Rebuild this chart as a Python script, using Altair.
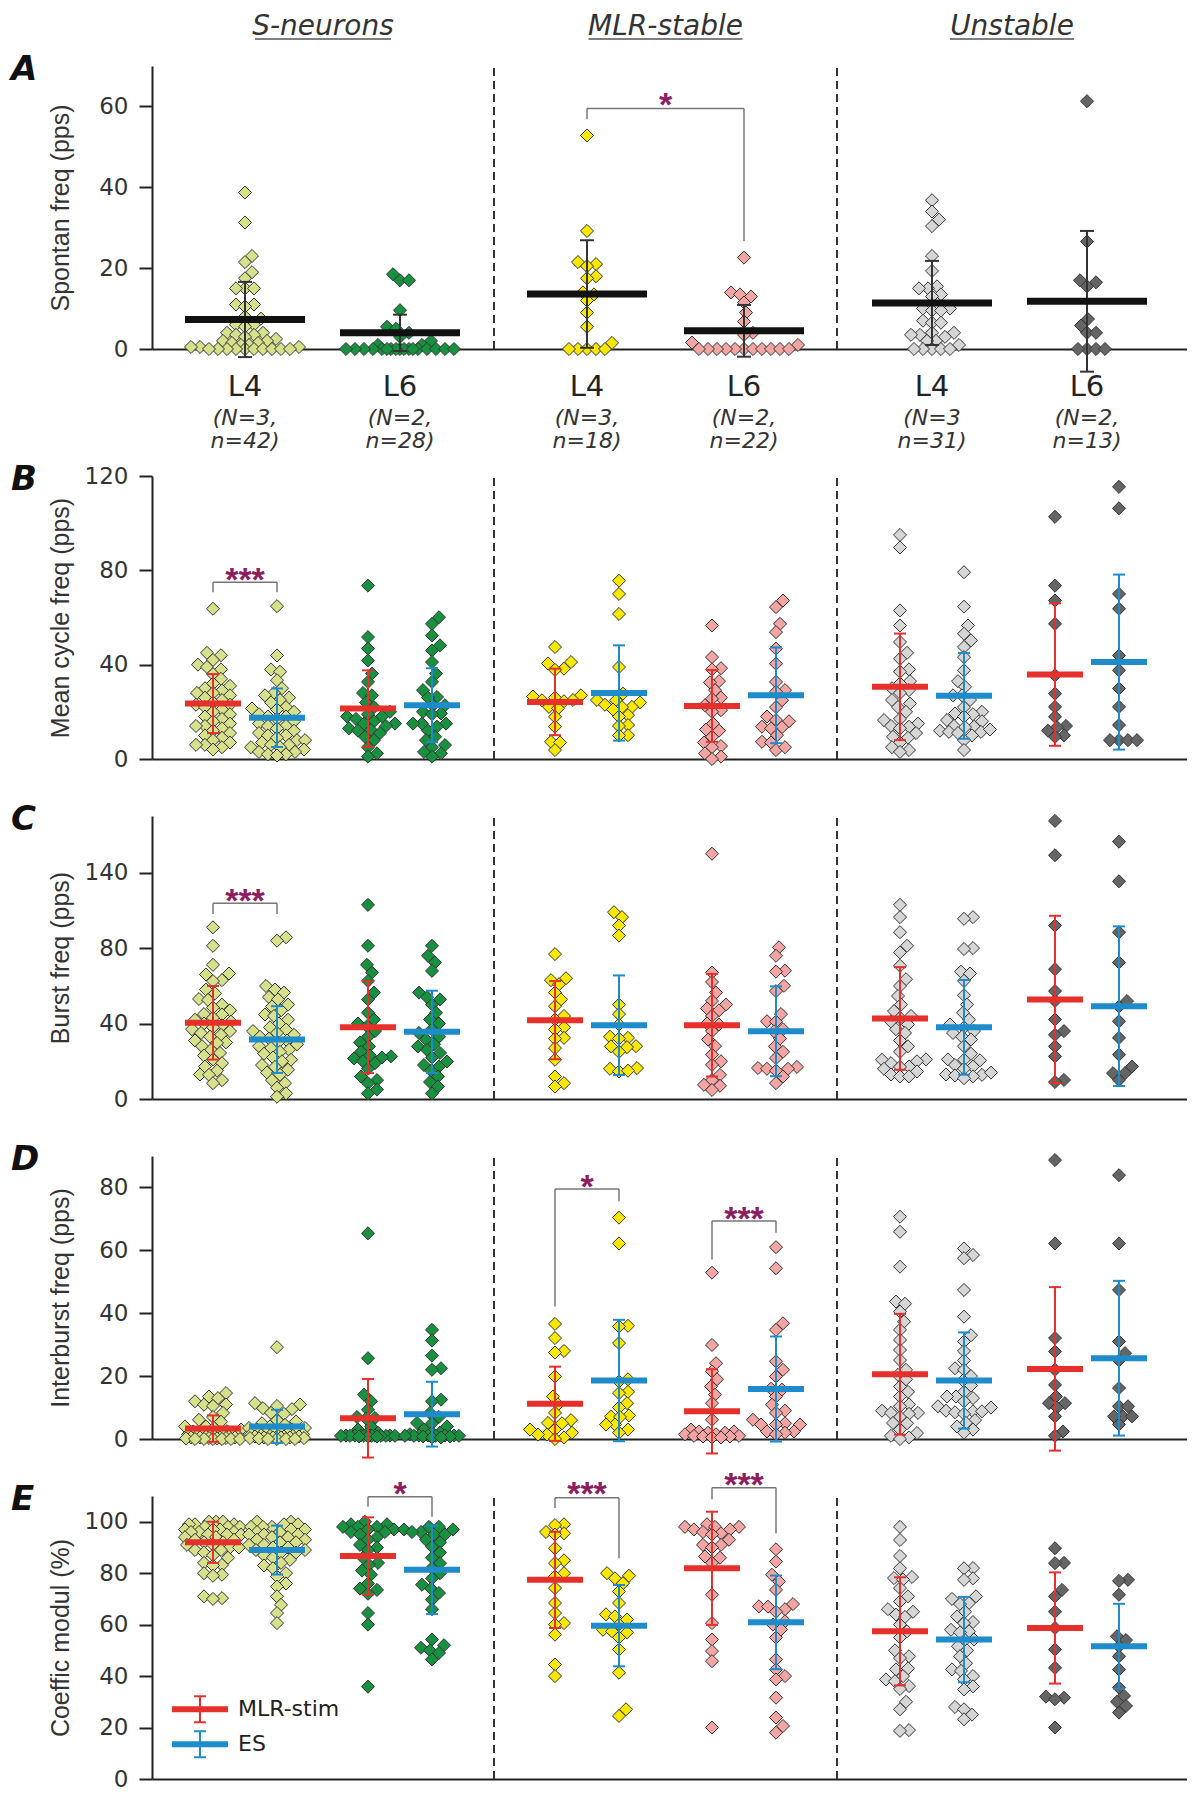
import math
import altair as alt
import pandas as pd

# ---------------- categories & labels ----------------
GROUPS = ["S-L4", "S-L6", "M-L4", "M-L6", "U-L4", "U-L6"]
COLUMN_TITLES = ["S-neurons", "MLR-stable", "Unstable"]
LAYER_LABELS = ["L4", "L6", "L4", "L6", "L4", "L6"]
N_LINE1 = ["(N=3,", "(N=2,", "(N=3,", "(N=2,", "(N=3", "(N=2,"]
N_LINE2 = ["n=42)", "n=28)", "n=18)", "n=22)", "n=31)", "n=13)"]
CONDITIONS = ["MLR-stim", "ES"]
PANEL_LETTERS = ["A", "B", "C", "D", "E"]
Y_TITLES = ["Spontan freq (pps)", "Mean cycle freq (pps)", "Burst freq (pps)",
            "Interburst freq (pps)", "Coeffic modul (%)"]

# ---------------- panel A : spontaneous frequency ----------------
A_VALUES = [
    [38.7, 31.3, 23, 21.5, 19, 17.5, 15, 15, 15, 11, 11, 10.5, 8, 7.5, 6, 6, 5.5, 4, 4, 3.5, 3.5, 3,
     2.5, 2, 2, 1.5, 1.5, 1, 1, 0.5, 0.5, 0.5, 0, 0, 0, 0, 0, 0, 0, 0, 0, 0],
    [18.5, 17, 17, 9.6, 5.5, 5, 4, 3, 2, 1, 1, 0, 0, 0, 0, 0, 0, 0, 0, 0, 0, 0, 0, 0, 0, 0, 0, 0],
    [52.8, 29.2, 21.5, 21, 20.5, 18, 17.5, 14, 13.5, 12, 9, 5.5, 1.5, 0, 0, 0, 0, 0],
    [22.6, 14, 13.5, 13, 11.5, 9, 6.8, 4, 3.5, 1.6, 1, 0, 0, 0, 0, 0, 0, 0, 0, 0, 0, 0],
    [36.8, 34, 32, 30.4, 23, 19.3, 15.5, 15, 15, 13.5, 13, 10, 10, 9.5, 9.5, 7, 6.5, 6.5, 4, 4, 3.5,
     3.5, 3, 2, 2, 1, 0, 0, 0, 0, 0],
    [61.3, 26.6, 17, 16.5, 15.5, 7.4, 5.8, 4, 4, 0, 0, 0, 0],
]
A_MEAN = [7.3, 4.0, 13.6, 4.5, 11.4, 11.8]
A_SD = [9.3, 4.5, 13.3, 6.4, 10.4, 17.4]

# ---------------- panel B : mean cycle frequency ----------------
B_MLR = [
    [63.7, 45, 44, 42, 40, 39, 38, 36, 34, 32, 31, 30, 29, 28, 28, 27, 26, 25, 24, 23, 23, 22, 21, 20,
     19, 18, 17, 16, 15, 14, 14, 13, 12, 11, 10, 9, 8, 7, 6, 6, 5, 4],
    [73.5, 51.7, 46.8, 41.8, 36.2, 32.7, 28, 27, 24, 22, 20, 19, 18, 18, 17, 16, 15, 15, 14, 13, 12.3,
     12, 11, 9.4, 8, 5, 2.4, 1],
    [47.5, 41.1, 40.5, 38.3, 37.8, 27, 26.5, 26, 25, 24.9, 24.5, 22.1, 21.5, 17.9, 13.7, 7.3, 7, 3.8],
    [56.6, 43.2, 38.5, 38, 33, 32.5, 29.2, 26, 25.5, 22.8, 20.7, 20, 15, 12.5, 12, 9.4, 7, 5.5, 5, 2.4, 1, 0],
    [95, 89.7, 63, 56.6, 49.6, 45, 42.5, 38, 37, 33, 32, 30, 29.2, 28, 25, 23.5, 22, 20, 17, 16.5, 15,
     14, 13.7, 13, 11, 9.4, 9, 7, 5, 3.8, 3],
    [102.7, 73.5, 67.2, 57.3, 35.5, 27.7, 22.1, 17.9, 14, 13.5, 10, 9.4, 12],
]
B_ES = [
    [64.8, 43.9, 38, 37, 33.4, 30, 28, 27, 26, 25, 24, 22, 21.4, 21, 20, 19, 18, 18, 17, 16, 15, 14, 14,
     13, 12, 11, 10, 10, 9, 8, 8, 7, 6, 6, 5, 5, 4, 3, 3, 2, 2, 1.5],
    [60.1, 57.3, 52.4, 48.2, 46, 41.1, 36.2, 32.7, 29.2, 26.3, 26, 22.8, 22.8, 20, 19.3, 19, 15, 15, 15,
     13.7, 12, 9.4, 8, 5.9, 5, 2.4, 1, 3],
    [75.6, 70, 61.5, 39, 27.7, 25, 24.9, 24, 23, 22.1, 22, 21, 18.6, 18, 14.4, 14, 10.1, 10],
    [67.2, 64.4, 57.3, 53.8, 46.8, 40.4, 32.7, 29.2, 28.5, 24.9, 22, 18, 16.5, 16, 13.7, 13.5, 13, 10.1,
     7.3, 7, 3.8, 5],
    [79.2, 64.6, 56.6, 53.1, 50.3, 47.5, 43.2, 37.6, 33, 30.6, 27, 27, 25, 22, 20, 19.3, 19, 18, 16.5,
     16, 14, 13.7, 13.5, 12, 11.5, 11.5, 11, 10, 8, 3.8, 12.5],
    [115.4, 106.3, 70, 63.7, 43.9, 37.6, 29.9, 22.1, 14.4, 8, 8, 8, 8],
]
B_MEAN_MLR = [23.5, 21.4, 24.2, 22.5, 30.6, 35.8]
B_SD_MLR = [12.5, 16.2, 14.1, 15.2, 22.6, 30.2]
B_MEAN_ES = [17.5, 22.8, 28.0, 27.0, 26.8, 41.1]
B_SD_ES = [12.4, 15.7, 20.2, 20.3, 18.2, 37.1]

# ---------------- panel C : burst frequency ----------------
C_MLR = [
    [91, 81.2, 71.1, 66.5, 66, 63, 62.5, 58, 56, 53, 52.5, 50, 48.4, 47, 45, 44.8, 43, 42, 41, 40, 39,
     38, 37, 36, 35, 34, 33, 31, 30, 29.7, 28, 26, 24.4, 23, 21, 19, 17.2, 15, 13, 12.8, 10, 8.4],
    [102.9, 81.2, 71.1, 67, 62.6, 56.4, 52.8, 45.7, 42.1, 40, 38.6, 36, 33, 30, 27.9, 25, 23, 22.6, 22,
     21.5, 20, 19, 16, 11.9, 10, 8.4, 5, 3],
    [76.8, 64, 63, 60.8, 56.4, 52.8, 49.2, 44, 42.1, 38, 36.8, 32.4, 32, 27, 20.8, 11.9, 8.4, 6.6],
    [130, 67, 62, 56.4, 52, 50, 48, 47, 44, 40, 39.5, 36, 31.5, 28, 23.5, 20, 18.1, 12.8, 10, 7.5, 7, 4.8],
    [102.9, 96.4, 88.4, 81.2, 77.7, 70.6, 63.5, 59.9, 54.6, 50, 46.6, 44, 43, 41, 39.5, 37, 35, 31,
     27.9, 25, 21, 20.8, 20, 19, 17.2, 17, 16, 14.6, 13, 11.9, 12],
    [147.4, 129.2, 91.9, 68.8, 57.2, 52, 42.1, 36, 34, 27.9, 22.6, 10.1, 9],
]
C_ES = [
    [85.7, 83.9, 59.9, 58, 56.4, 54, 52.8, 50, 49, 47, 44.8, 44, 42, 40, 38, 36.8, 36, 35, 34, 33, 32,
     31, 30, 29, 28, 27, 26.1, 25, 24, 22, 20.8, 20, 18, 17, 15.5, 14, 12.8, 10, 8.4, 6, 3, 1.2],
    [81.2, 75.9, 72.4, 67.9, 56.4, 54, 52.8, 50, 45.7, 42.1, 40, 37, 35, 33, 31.5, 29, 27.9, 26, 24.4,
     22, 19.9, 18, 17.2, 15, 11.9, 9, 6.6, 3],
    [99, 96.4, 91.9, 86.6, 50, 45, 39.5, 33, 32.4, 32, 28, 27.9, 27.5, 25, 16.4, 16, 14.6, 15],
    [80.4, 75.9, 68, 67.5, 60, 57.2, 45, 41.2, 41, 37, 35.9, 32, 27.9, 25, 21.7, 17, 16.4, 16, 16, 15,
     11.9, 8.4],
    [96.4, 95.5, 80, 79.5, 67.5, 66.5, 62.6, 55, 50, 45.7, 42, 39.5, 38, 36, 35, 33, 31.5, 28, 24, 21,
     20.8, 20.5, 18, 17.2, 16, 13, 12.8, 12.5, 12, 11, 14],
    [136.4, 115.4, 88.4, 72.4, 51.9, 49, 41.2, 32.4, 23.5, 17.2, 13.7, 13.7, 10.1],
]
C_MEAN_MLR = [40.4, 38.0, 41.8, 39.1, 42.7, 52.8]
C_SD_MLR = [19.5, 24.3, 20.7, 27.2, 27.2, 44.3]
C_MEAN_ES = [31.5, 35.6, 39.1, 35.9, 38.0, 49.2]
C_SD_ES = [17.7, 21.8, 26.4, 23.8, 25.1, 42.3]

# ---------------- panel D : interburst frequency ----------------
D_MLR = [
    [14.6, 13.5, 13, 12, 11, 10.9, 10.5, 8.3, 7, 6.1, 5.5, 4, 4, 3.5, 3, 2.5, 2.4, 2, 2, 1.5, 1.5, 1.4,
     1.2, 1, 1, 1, 0.8, 0.8, 0.5, 0.5, 0.5, 0.5, 0.3, 0.3, 0.2, 0.2, 0, 0, 0, 0, 0, 0],
    [65.4, 25.7, 14.1, 12, 9.3, 7, 6.7, 6.5, 4, 3, 2, 1.5, 1.1, 1.1, 1.1, 1.1, 1.1, 1.1, 1, 1, 1, 1, 1,
     1, 1, 0.8, 0.8, 0.8],
    [36.6, 32.1, 28, 27.5, 19.9, 13.5, 11, 8.3, 6, 5.1, 5, 3, 3, 2, 1.4, 1.4, 0.5, 0],
    [52.9, 29.9, 24.1, 21.5, 19, 16.7, 14.1, 11.4, 6.1, 3, 2.4, 2.4, 2, 2, 1.5, 1.5, 1, 1, 0.8, 0.8,
     0.5, 0.5],
    [70.7, 65.9, 54.8, 43.7, 43, 40.5, 37.3, 34.7, 31.5, 28.3, 25.1, 22, 20.4, 19, 16.7, 15, 13.5, 11,
     10.4, 9, 8.3, 8.3, 8, 7, 5.1, 5, 3, 1.9, 1, 0.5, 0],
    [88.7, 62.2, 32.1, 27.8, 22, 17.2, 13.5, 11.4, 11.4, 10, 7.2, 2.4, 1],
]
D_ES = [
    [29.2, 11.4, 11, 10.5, 9.8, 9.5, 8.3, 8, 6, 5.6, 5, 4.5, 4, 3.5, 3.5, 3, 3, 2.5, 2, 2, 1.9, 1.8, 1.5,
     1.5, 1.2, 1, 1, 1, 0.8, 0.8, 0.8, 0.5, 0.5, 0.5, 0.5, 0.3, 0.3, 0.2, 0, 0, 0, 0],
    [34.7, 31.3, 26.5, 22.5, 22, 12.5, 12, 8.3, 7, 5.1, 5, 4, 3, 2, 2, 1.5, 1.1, 1.1, 1.1, 1.1, 1, 1, 1,
     1, 0.8, 0.8, 0.5, 0.5],
    [70.4, 62.2, 36, 35.8, 30.5, 19, 18.3, 15, 14.6, 11.4, 10, 7.5, 7.2, 7, 4.6, 4.6, 3, 2],
    [61, 54.3, 36.8, 34.7, 24.7, 22, 19.9, 16, 15.7, 13.5, 10.9, 9, 8.3, 6.1, 5, 4.6, 4.6, 4.6, 2.4,
     2.4, 2, 1.5],
    [60.6, 58.5, 57.5, 47.4, 38.9, 33, 31, 28, 25, 22.5, 22, 20, 18.6, 17, 15, 13.5, 13.5, 13, 12, 10.4,
     10, 9, 8.8, 8.8, 8.5, 8, 6, 5.1, 4, 3, 2],
    [83.9, 62.2, 47.4, 31, 27.3, 25, 16.2, 10.4, 10.4, 7.2, 7.2, 7.2, 4.6],
]
D_MEAN_MLR = [3.3, 6.6, 11.2, 8.8, 20.6, 22.3]
D_SD_MLR = [4.2, 12.5, 11.8, 13.4, 19.2, 26.0]
D_MEAN_ES = [4.0, 7.9, 18.6, 15.9, 18.6, 25.7]
D_SD_ES = [5.3, 10.3, 19.3, 16.7, 15.3, 24.6]

# ---------------- panel E : coefficient of modulation ----------------
E_MLR = [
    [100, 100, 100, 99, 99, 99, 98, 98, 98, 97, 97, 97, 96, 96, 96, 95, 95, 95, 94, 94, 93, 93, 92, 92,
     91, 91, 90, 90, 89, 89, 88, 87, 86, 84, 83.2, 83, 80, 79.4, 79, 71, 70.3, 70],
    [100, 99, 99, 98, 98, 98, 97, 97, 96, 96, 95, 94, 93, 91, 90, 89, 86, 84, 83.2, 81, 79.4, 76, 74,
     73.5, 72, 64.5, 60, 35.9],
    [99, 98.7, 96, 95.5, 95, 89.7, 85, 83.9, 80, 78.7, 74.2, 68.4, 64.5, 60.6, 60, 56.1, 44.5, 40],
    [99, 98, 98, 98, 97, 97, 96, 95.5, 95, 93, 91, 91, 90, 86.5, 86, 84, 71.6, 60.6, 54.2, 49.7, 45.8, 20],
    [98, 92.9, 86.7, 81.9, 78.5, 78.1, 77.5, 74.2, 71, 69, 65, 63.9, 63, 60, 57.4, 55, 50, 47.7, 47, 43,
     42.6, 40, 38.7, 38, 36.1, 35, 30, 27.1, 19, 18.7, 66],
    [89.7, 84, 83.9, 73.5, 71, 65, 58.7, 50.3, 43.2, 32, 31.6, 31, 20],
]
E_ES = [
    [100, 100, 99, 99, 98, 98, 98, 97, 97, 96, 96, 95, 95, 95, 94, 94, 93, 93, 92, 92, 91, 91, 90, 90,
     89, 89, 88, 88, 87, 86, 85.2, 84, 83, 81.9, 80, 78.7, 76, 74.8, 71, 67.7, 64.5, 60.6],
    [98, 98, 97, 97, 96, 96, 95, 95, 93, 92, 90.3, 88, 86, 83.9, 82, 80, 78, 75.5, 74, 72.3, 69.7, 66,
     54.2, 52, 51, 50, 49, 46.5],
    [80, 79, 78, 76.1, 72.9, 68.4, 64, 63.2, 62, 60, 58, 57.4, 57, 50.3, 41.3, 27.1, 24.5, 55],
    [89.3, 84.5, 79.4, 76.8, 73.5, 68, 67.1, 67, 66, 65, 61.3, 60, 58.1, 55, 46.5, 42.6, 40, 38.7, 31.6,
     23.9, 20.6, 18],
    [82, 81.9, 78, 77.4, 71, 70, 68.4, 68, 65, 63.2, 61, 60.6, 58, 57.4, 57, 54.2, 54, 51.6, 50, 47.7,
     45, 42.6, 42, 40, 38.7, 36, 34.8, 28, 27.1, 25, 23.2],
    [77.4, 77, 71.6, 55.5, 54, 51.6, 47.7, 42.6, 35.5, 32.3, 30, 28.4, 25.8],
]
E_MEAN_MLR = [92.0, 86.7, 77.4, 81.9, 57.4, 58.7]
E_SD_MLR = [8.0, 15.0, 18.7, 22.0, 21.0, 21.6]
E_MEAN_ES = [89.0, 81.3, 59.6, 60.9, 54.2, 51.6]
E_SD_ES = [9.5, 17.2, 15.8, 18.2, 16.6, 16.5]

# ---------------- significance brackets ----------------
# (left group, left cond, right group, right cond, top, left end, right end, label, label level)
SIG_A = [("M-L4", None, "M-L6", None, 59.5, 56.8, 26.7, "*", 62.5)]
SIG_B = [("S-L4", "MLR-stim", "S-L4", "ES", 74.9, 70.7, 70.7, "***", 79.8)]
SIG_C = [("S-L4", "MLR-stim", "S-L4", "ES", 103.8, 98.0, 98.0, "***", 109.7)]
SIG_D = [("M-L4", "MLR-stim", "M-L4", "ES", 79.5, 42.1, 75.6, "*", 83.0),
         ("M-L6", "MLR-stim", "M-L6", "ES", 69.3, 57.1, 65.6, "***", 72.8)]
SIG_E = [("S-L6", "MLR-stim", "S-L6", "ES", 109.7, 105.8, 101.9, "*", 114.2),
         ("M-L4", "MLR-stim", "M-L4", "ES", 109.3, 105.3, 85.8, "***", 114.2),
         ("M-L6", "MLR-stim", "M-L6", "ES", 113.2, 108.7, 95.5, "***", 117.7)]

# ---------------- layout & style ----------------
W = 1035
PANEL_H = 283
CENTERS = [93, 248, 435, 592, 780, 935]
SUB = 32
SEPARATORS = [342, 685]
TITLE_HALF_W = [68, 77, 62]
LEGEND_Y = [27.1, 13.5]
GROUP_COLORS = ["#d7e18c", "#17913f", "#f8e700", "#f3a5a3", "#d6d6d6", "#656565"]
COND_COLORS = ["#e5302b", "#1e8bcb"]
STAR_COLOR = "#8c1d5f"


def swarm(values, ppu, dist=9.0, maxw=28):
    order = sorted(range(len(values)), key=lambda i: values[i])
    cands = [0.0]
    for k in range(1, int(maxw) + 1):
        cands += [float(k), float(-k)]
    placed = []
    offs = [0.0] * len(values)
    for i in order:
        y = values[i] * ppu
        chosen, best_c, best_d = None, 0.0, -1.0
        for c in cands:
            dmin = 1e9
            for (px, py) in placed:
                if abs(py - y) < dist:
                    d = math.hypot(c - px, y - py)
                    if d < dmin:
                        dmin = d
            if dmin >= dist:
                chosen = c
                break
            if dmin > best_d:
                best_d, best_c = dmin, c
        if chosen is None:
            chosen = best_c
        placed.append((chosen, y))
        offs[i] = chosen
    return offs


def x_of(group, cond=None):
    c = CENTERS[GROUPS.index(group)]
    if cond is None:
        return c
    return c - SUB if cond == CONDITIONS[0] else c + SUB


XSCALE = alt.Scale(domain=[0, W], nice=False, zero=False)
XAXIS = alt.Axis(title=None, labels=False, ticks=False, grid=False, domain=True,
                 domainColor="#222", domainWidth=2)


def X(f):
    return alt.X(f, type="quantitative", scale=XSCALE, axis=XAXIS)


def make_Y(ymax, ticks, title, label_expr=None):
    kw = dict(values=ticks, title=title, grid=False, domainColor="#222", domainWidth=2,
              tickColor="#222", tickWidth=2, tickSize=13, labelPadding=11,
              labelFont="DejaVu Sans", labelFontSize=23, labelColor="#333", labelOverlap=False,
              titleFont="Liberation Sans", titleFontSize=25, titleFontWeight="normal",
              titleColor="#333", titleAngle=270, titleX=-92, titleY=PANEL_H / 2,
              titleAlign="center", titleBaseline="middle")
    if label_expr:
        kw["labelExpr"] = label_expr
    ax = alt.Axis(**kw)
    sc = alt.Scale(domain=[0, ymax], nice=False, zero=False)
    return lambda f: alt.Y(f, type="quantitative", scale=sc, axis=ax)


COND_COLOR = alt.Color("cond:N", scale=alt.Scale(domain=CONDITIONS, range=COND_COLORS), legend=None)
GROUP_FILL = alt.Fill("grp:N", scale=alt.Scale(domain=GROUPS, range=GROUP_COLORS), legend=None)


def base_layers(Y, ymax, letter, pts_df, sigs):
    sep_df = pd.DataFrame({"x": SEPARATORS, "y0": [0] * len(SEPARATORS), "y1": [ymax] * len(SEPARATORS)})
    sep = alt.Chart(sep_df).mark_rule(color="#333", strokeWidth=2, strokeDash=[8, 5]).encode(
        x=X("x"), y=Y("y0"), y2="y1")
    pts = alt.Chart(pts_df).mark_point(shape="diamond", filled=True, size=170, stroke="#333",
                                       strokeWidth=1, opacity=1, fillOpacity=1).encode(
        x=X("x"), y=Y("v"), fill=GROUP_FILL)
    segs, stars = [], []
    for gl, cl, gr, cr, top, lb, rb, lab, ly in sigs:
        xl, xr = x_of(gl, cl), x_of(gr, cr)
        segs += [dict(x=xl, x2=xl, y=lb, y2=top), dict(x=xl, x2=xr, y=top, y2=top),
                 dict(x=xr, x2=xr, y=top, y2=rb)]
        stars.append(dict(x=(xl + xr) / 2, y=ly, t=lab))
    brk = alt.Chart(pd.DataFrame(segs)).mark_rule(color="#777", strokeWidth=1.5).encode(
        x=X("x"), x2="x2", y=Y("y"), y2="y2")
    st = alt.Chart(pd.DataFrame(stars)).mark_text(
        font="Liberation Sans", fontWeight="bold", fontSize=34, color=STAR_COLOR,
        align="center", baseline="alphabetic", dy=20).encode(x=X("x"), y=Y("y"), text="t:N")
    let = alt.Chart(pd.DataFrame({"t": [letter]})).mark_text(
        font="DejaVu Sans", fontStyle="italic", fontWeight="bold", fontSize=34, color="#111",
        align="left", baseline="middle").encode(x=alt.value(-141), y=alt.value(4), text="t:N")
    return sep, pts, brk, st, let


def panel_A():
    ymax = 70
    Y = make_Y(ymax, [0, 20, 40, 60], Y_TITLES[0])
    ppu = PANEL_H / ymax
    rows = []
    for gi, vals in enumerate(A_VALUES):
        offs = swarm(vals, ppu, dist=9.0, maxw=55)
        for v, o in zip(vals, offs):
            rows.append(dict(x=CENTERS[gi] + o, v=v, grp=GROUPS[gi]))
    sep, pts, brk, st, let = base_layers(Y, ymax, PANEL_LETTERS[0], pd.DataFrame(rows), SIG_A)
    stats = pd.DataFrame(dict(
        x=CENTERS, mean=A_MEAN,
        lo=[m - s for m, s in zip(A_MEAN, A_SD)], hi=[m + s for m, s in zip(A_MEAN, A_SD)],
        ml=[c - 60 for c in CENTERS], mr=[c + 60 for c in CENTERS],
        cl=[c - 7 for c in CENTERS], cr=[c + 7 for c in CENTERS]))
    err = alt.Chart(stats).mark_rule(color="#333", strokeWidth=2).encode(x=X("x"), y=Y("lo"), y2="hi")
    cap1 = alt.Chart(stats).mark_rule(color="#333", strokeWidth=2).encode(x=X("cl"), x2="cr", y=Y("hi"))
    cap2 = alt.Chart(stats).mark_rule(color="#333", strokeWidth=2).encode(x=X("cl"), x2="cr", y=Y("lo"))
    mean = alt.Chart(stats).mark_rule(color="#111", strokeWidth=7).encode(x=X("ml"), x2="mr", y=Y("mean"))

    # invisible anchor that fixes the top-left corner of the whole figure
    anchor = alt.Chart(pd.DataFrame({"a": [0]})).mark_rule(opacity=0, strokeWidth=1).encode(
        x=alt.value(-143.5), x2=alt.value(-140), y=alt.value(-57.5), y2=alt.value(-50))

    col_x = [SEPARATORS[0] / 2, (SEPARATORS[0] + SEPARATORS[1]) / 2, (SEPARATORS[1] + W) / 2]
    tdf = pd.DataFrame(dict(x=col_x, t=COLUMN_TITLES,
                            xl=[c - h for c, h in zip(col_x, TITLE_HALF_W)],
                            xr=[c + h for c, h in zip(col_x, TITLE_HALF_W)]))
    titles = alt.Chart(tdf).mark_text(font="DejaVu Sans", fontStyle="italic", fontSize=28,
                                      color="#333", align="center", baseline="alphabetic").encode(
        x=X("x"), y=alt.value(-31), text="t:N")
    under = alt.Chart(tdf).mark_rule(color="#555", strokeWidth=1.5).encode(
        x=X("xl"), x2="xr", y=alt.value(-27))
    ldf = pd.DataFrame(dict(x=CENTERS, l=LAYER_LABELS, n1=N_LINE1, n2=N_LINE2))
    lab = alt.Chart(ldf).mark_text(font="DejaVu Sans", fontSize=29, color="#222",
                                   align="center", baseline="middle").encode(
        x=X("x"), y=alt.value(321), text="l:N")
    n1 = alt.Chart(ldf).mark_text(font="DejaVu Sans", fontStyle="italic", fontSize=22, color="#333",
                                  align="center", baseline="middle").encode(
        x=X("x"), y=alt.value(352), text="n1:N")
    n2 = alt.Chart(ldf).mark_text(font="DejaVu Sans", fontStyle="italic", fontSize=22, color="#333",
                                  align="center", baseline="middle").encode(
        x=X("x"), y=alt.value(375), text="n2:N")
    return alt.layer(anchor, sep, pts, err, cap1, cap2, mean, brk, st, let, titles, under,
                     lab, n1, n2).properties(width=W, height=PANEL_H)


def panel_pair(idx, ymax, ticks, mlr, es, m_mlr, s_mlr, m_es, s_es, sigs, label_expr=None, legend=False):
    Y = make_Y(ymax, ticks, Y_TITLES[idx], label_expr)
    ppu = PANEL_H / ymax
    rows, srows = [], []
    for gi, g in enumerate(GROUPS):
        for cond, vals, m, s in ((CONDITIONS[0], mlr[gi], m_mlr[gi], s_mlr[gi]),
                                 (CONDITIONS[1], es[gi], m_es[gi], s_es[gi])):
            xc = x_of(g, cond)
            offs = swarm(vals, ppu, dist=9.0, maxw=28)
            for v, o in zip(vals, offs):
                rows.append(dict(x=xc + o, v=v, grp=g))
            srows.append(dict(x=xc, cond=cond, mean=m, lo=m - s, hi=m + s,
                              ml=xc - 28, mr=xc + 28, cl=xc - 6, cr=xc + 6))
    sep, pts, brk, st, let = base_layers(Y, ymax, PANEL_LETTERS[idx], pd.DataFrame(rows), sigs)
    stats = pd.DataFrame(srows)
    err = alt.Chart(stats).mark_rule(strokeWidth=2).encode(x=X("x"), y=Y("lo"), y2="hi", color=COND_COLOR)
    cap1 = alt.Chart(stats).mark_rule(strokeWidth=2).encode(x=X("cl"), x2="cr", y=Y("hi"), color=COND_COLOR)
    cap2 = alt.Chart(stats).mark_rule(strokeWidth=2).encode(x=X("cl"), x2="cr", y=Y("lo"), color=COND_COLOR)
    mean = alt.Chart(stats).mark_rule(strokeWidth=6).encode(x=X("ml"), x2="mr", y=Y("mean"), color=COND_COLOR)
    layers = [sep, pts, err, cap1, cap2, mean, brk, st, let]
    if legend:
        half = 13 / ppu
        lg = pd.DataFrame(dict(cond=CONDITIONS, y=LEGEND_Y,
                               x=[48, 48], xl=[20, 20], xr=[76, 76], cl=[42, 42], cr=[54, 54],
                               lo=[v - half for v in LEGEND_Y], hi=[v + half for v in LEGEND_Y],
                               tx=[86, 86]))
        layers += [
            alt.Chart(lg).mark_rule(strokeWidth=6).encode(x=X("xl"), x2="xr", y=Y("y"), color=COND_COLOR),
            alt.Chart(lg).mark_rule(strokeWidth=2).encode(x=X("x"), y=Y("lo"), y2="hi", color=COND_COLOR),
            alt.Chart(lg).mark_rule(strokeWidth=2).encode(x=X("cl"), x2="cr", y=Y("lo"), color=COND_COLOR),
            alt.Chart(lg).mark_rule(strokeWidth=2).encode(x=X("cl"), x2="cr", y=Y("hi"), color=COND_COLOR),
            alt.Chart(lg).mark_text(font="DejaVu Sans", fontSize=22, color="#222", align="left",
                                    baseline="middle").encode(x=X("tx"), y=Y("y"), text="cond:N"),
        ]
    return alt.layer(*layers).properties(width=W, height=PANEL_H)


spacer = alt.Chart(pd.DataFrame({"s": [0]})).mark_point(opacity=0).encode(
    x=alt.X("s:Q", axis=None), y=alt.Y("s:Q", axis=None)).properties(width=W, height=13)

pA = panel_A()
pB = panel_pair(1, 120, [0, 40, 80, 120], B_MLR, B_ES, B_MEAN_MLR, B_SD_MLR, B_MEAN_ES, B_SD_ES, SIG_B)
pC = panel_pair(2, 150, [0, 40, 80, 120], C_MLR, C_ES, C_MEAN_MLR, C_SD_MLR, C_MEAN_ES, C_SD_ES, SIG_C,
                label_expr="datum.value == 120 ? '140' : datum.label")
pD = panel_pair(3, 90, [0, 20, 40, 60, 80], D_MLR, D_ES, D_MEAN_MLR, D_SD_MLR, D_MEAN_ES, D_SD_ES, SIG_D)
pE = panel_pair(4, 110, [0, 20, 40, 60, 80, 100], E_MLR, E_ES, E_MEAN_MLR, E_SD_MLR, E_MEAN_ES, E_SD_ES,
                SIG_E, legend=True)

chart = alt.vconcat(pA, spacer, pB, pC, pD, pE, spacing=57, bounds="flush").properties(
    padding=0).configure_view(stroke=None)

chart.save("out.html", embed_options={"renderer": "svg", "actions": False})
